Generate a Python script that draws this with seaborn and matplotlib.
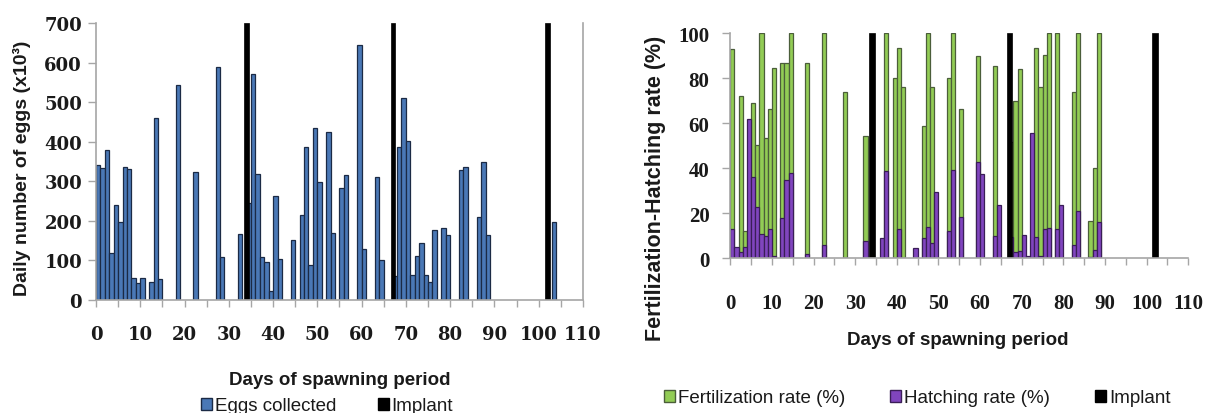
import numpy as np
import pandas as pd
import matplotlib
matplotlib.use("Agg")
import matplotlib.pyplot as plt
import seaborn as sns
from matplotlib.patches import Patch

# ---------------- data ----------------
egg_days = [1, 2, 3, 4, 5, 6, 7, 8, 9, 10, 11, 13, 14, 15, 19, 23, 28, 29, 33, 35,
            36, 37, 38, 39, 40, 41, 42, 45, 47, 48, 49, 50, 51, 53, 54, 56, 57, 60,
            61, 64, 65, 68, 69, 70, 71, 72, 73, 74, 75, 76, 77, 79, 80, 83, 84, 87,
            88, 89, 104]
egg_values = [342, 334, 379, 118, 239, 197, 336, 331, 55, 42, 55, 46, 461, 52, 543,
              324, 589, 108, 167, 245, 572, 318, 108, 95, 23, 262, 104, 152, 216, 386,
              89, 434, 298, 424, 169, 284, 317, 644, 128, 310, 101, 60, 386, 510, 403,
              63, 112, 145, 63, 46, 177, 183, 165, 328, 337, 209, 348, 165, 197]

implant_days = [34, 67, 102]
implant_left = 700
implant_right = 100

rate_days = [1, 2, 3, 4, 5, 6, 7, 8, 9, 10, 11, 13, 14, 15, 19, 23, 28, 33, 37, 38,
             40, 41, 42, 45, 47, 48, 49, 50, 53, 54, 56, 60, 61, 64, 65, 68, 69, 70,
             71, 72, 73, 74, 75, 76, 77, 79, 80, 83, 84, 87, 88, 89]
fert_rate = [93, np.nan, 72, 12, np.nan, 69, 50.5, 100, 53.5, 66.5, 84.5, 87, 87, 100,
             87, 100, 74, 54.5, np.nan, 100, 80, 93.5, 76, np.nan, 58.7, 100, 76,
             np.nan, 80, 100, 66.5, 90, np.nan, 85.6, np.nan, 51.6, 70, 84, np.nan,
             np.nan, np.nan, 93.5, 76, 90.5, 100, 100, np.nan, 73.8, 100, 16.7, 40, 100]
hatch_rate = [13, 5, 3, 5, 62, 36, 23, 11, 10, 13, 1.2, 18, 35, 38, 2, 6, 0, 7.6, 9,
              39, 0, 13, 0, 4.5, 9, 14, 7, 29.3, 12, 39.4, 18.5, 42.7, 37.5, 10, 23.7,
              9.3, 2.7, 3.4, 10.5, 1, 55.7, 9.3, 1, 13, 13.5, 13, 23.7, 6, 20.9, 0.4,
              3.7, 16]

x_ticks = list(range(0, 111, 10))
left_y_ticks = list(range(0, 701, 100))
right_y_ticks = list(range(0, 101, 20))

# ---------------- style ----------------
sns.set_theme(style="white")
plt.rcParams["font.family"] = ["Liberation Sans", "DejaVu Sans"]

BLUE, BLUE_EDGE = "#4A78B6", "#1B2A45"
GREEN, GREEN_EDGE = "#92CC55", "#4B5E3A"
PURPLE, PURPLE_EDGE = "#8045BE", "#3A1E57"
BLACK = "#000000"
SPINE = "#A6A6A6"

def native_w(days, w=1.0):
    d = np.diff(np.unique(days))
    return w / d.min() if len(d) else w

fig = plt.figure(figsize=(12.06, 4.14), dpi=100)
ax1 = fig.add_axes([0.0796, 0.273, 0.4038, 0.669])
ax2 = fig.add_axes([0.6055, 0.3737, 0.3798, 0.5435])

# ---------------- left chart ----------------
eggs_df = pd.DataFrame({"day": np.array(egg_days) - 0.5, "eggs": egg_values})
sns.barplot(data=eggs_df, x="day", y="eggs", native_scale=True, orient="x",
            width=1.0, color=BLUE, saturation=1, edgecolor=BLUE_EDGE,
            linewidth=0.9, errorbar=None, ax=ax1)
imp_df_l = pd.DataFrame({"day": implant_days, "v": [implant_left] * len(implant_days)})
sns.barplot(data=imp_df_l, x="day", y="v", native_scale=True, orient="x",
            width=native_w(implant_days, 0.95), color=BLACK, saturation=1,
            edgecolor=BLACK, linewidth=0.5, errorbar=None, ax=ax1)

# ---------------- right chart ----------------
rates_df = pd.DataFrame({"day": np.array(rate_days) - 0.5, "fert": fert_rate,
                         "hatch": hatch_rate})
sns.barplot(data=rates_df.dropna(subset=["fert"]), x="day", y="fert",
            native_scale=True, orient="x", width=1.0, color=GREEN, saturation=1,
            edgecolor=GREEN_EDGE, linewidth=0.9, errorbar=None, ax=ax2)
sns.barplot(data=rates_df, x="day", y="hatch", native_scale=True, orient="x",
            width=1.0, color=PURPLE, saturation=1, edgecolor=PURPLE_EDGE,
            linewidth=0.9, errorbar=None, ax=ax2)
imp_df_r = pd.DataFrame({"day": implant_days, "v": [implant_right] * len(implant_days)})
sns.barplot(data=imp_df_r, x="day", y="v", native_scale=True, orient="x",
            width=native_w(implant_days, 1.3), color=BLACK, saturation=1,
            edgecolor=BLACK, linewidth=0.5, errorbar=None, ax=ax2)

# ---------------- axes styling ----------------
serif_l = {"family": ["DejaVu Serif"], "weight": "bold", "size": 13}
serif_r = {"family": ["Liberation Serif"], "weight": "bold", "size": 15}

for ax, yt, ymax, fnt, xpad, ypad, right_spine in [
        (ax1, left_y_ticks, 700, serif_l, 13, 4, True),
        (ax2, right_y_ticks, 100, serif_r, 20, 9, False)]:
    ax.set_xlim(0, 110)
    ax.set_ylim(0, ymax)
    ax.set_xticks(x_ticks)
    ax.set_xticks(np.arange(5, 110, 10), minor=True)
    ax.set_yticks(yt)
    ax.set_xticklabels([str(t) for t in x_ticks], fontdict=fnt, color="#1a1a1a")
    ax.set_yticklabels([str(t) for t in yt], fontdict=fnt, color="#1a1a1a")
    ax.tick_params(axis="x", which="both", direction="out", length=5, width=1,
                   color=SPINE, bottom=True, pad=xpad)
    ax.tick_params(axis="y", direction="out", length=6, width=1, color=SPINE,
                   left=True, pad=ypad)
    ax.set_xlabel("")
    ax.set_ylabel("")
    for s in ["left", "bottom", "right", "top"]:
        ax.spines[s].set_color(SPINE)
        ax.spines[s].set_linewidth(1.2)
    ax.spines["top"].set_visible(False)
    ax.spines["right"].set_visible(right_spine)
    ax.grid(False)
    ax.set_facecolor("white")

# axis titles
fig.text(340 / 1206, 1 - 381 / 414, "Days of spawning period", ha="center",
         va="center", fontsize=13.5, fontweight="bold", color="#1a1a1a")
fig.text(958 / 1206, 1 - 341 / 414, "Days of spawning period", ha="center",
         va="center", fontsize=13.5, fontweight="bold", color="#1a1a1a")
fig.text(22 / 1206, 1 - 168 / 414, "Daily number of eggs (x10³)", rotation=90,
         ha="center", va="center", fontsize=14, fontweight="bold", color="#1a1a1a")
fig.text(656 / 1206, 1 - 188 / 414, "Fertilization-Hatching rate (%)", rotation=90,
         ha="center", va="center", fontsize=15.5, fontweight="bold", color="#1a1a1a")

# legends
lh1 = [Patch(facecolor=BLUE, edgecolor=BLUE_EDGE, label="Eggs collected"),
       Patch(facecolor=BLACK, edgecolor=BLACK, label="Implant")]
fig.legend(handles=lh1, loc="center", bbox_to_anchor=(327 / 1206, 1 - 407 / 414),
           ncol=2, frameon=False, fontsize=13.5, handlelength=0.6, handleheight=0.6,
           handletextpad=0.15, columnspacing=2.2, labelcolor="#1a1a1a")
lh2 = [Patch(facecolor=GREEN, edgecolor=GREEN_EDGE, label="Fertilization rate (%)"),
       Patch(facecolor=PURPLE, edgecolor=PURPLE_EDGE, label="Hatching rate (%)"),
       Patch(facecolor=BLACK, edgecolor=BLACK, label="Implant")]
fig.legend(handles=lh2, loc="center", bbox_to_anchor=(917 / 1206, 1 - 399 / 414),
           ncol=3, frameon=False, fontsize=13.5, handlelength=0.6, handleheight=0.6,
           handletextpad=0.15, columnspacing=2.4, labelcolor="#1a1a1a")

fig.savefig("out.png", dpi=100, facecolor="white")
